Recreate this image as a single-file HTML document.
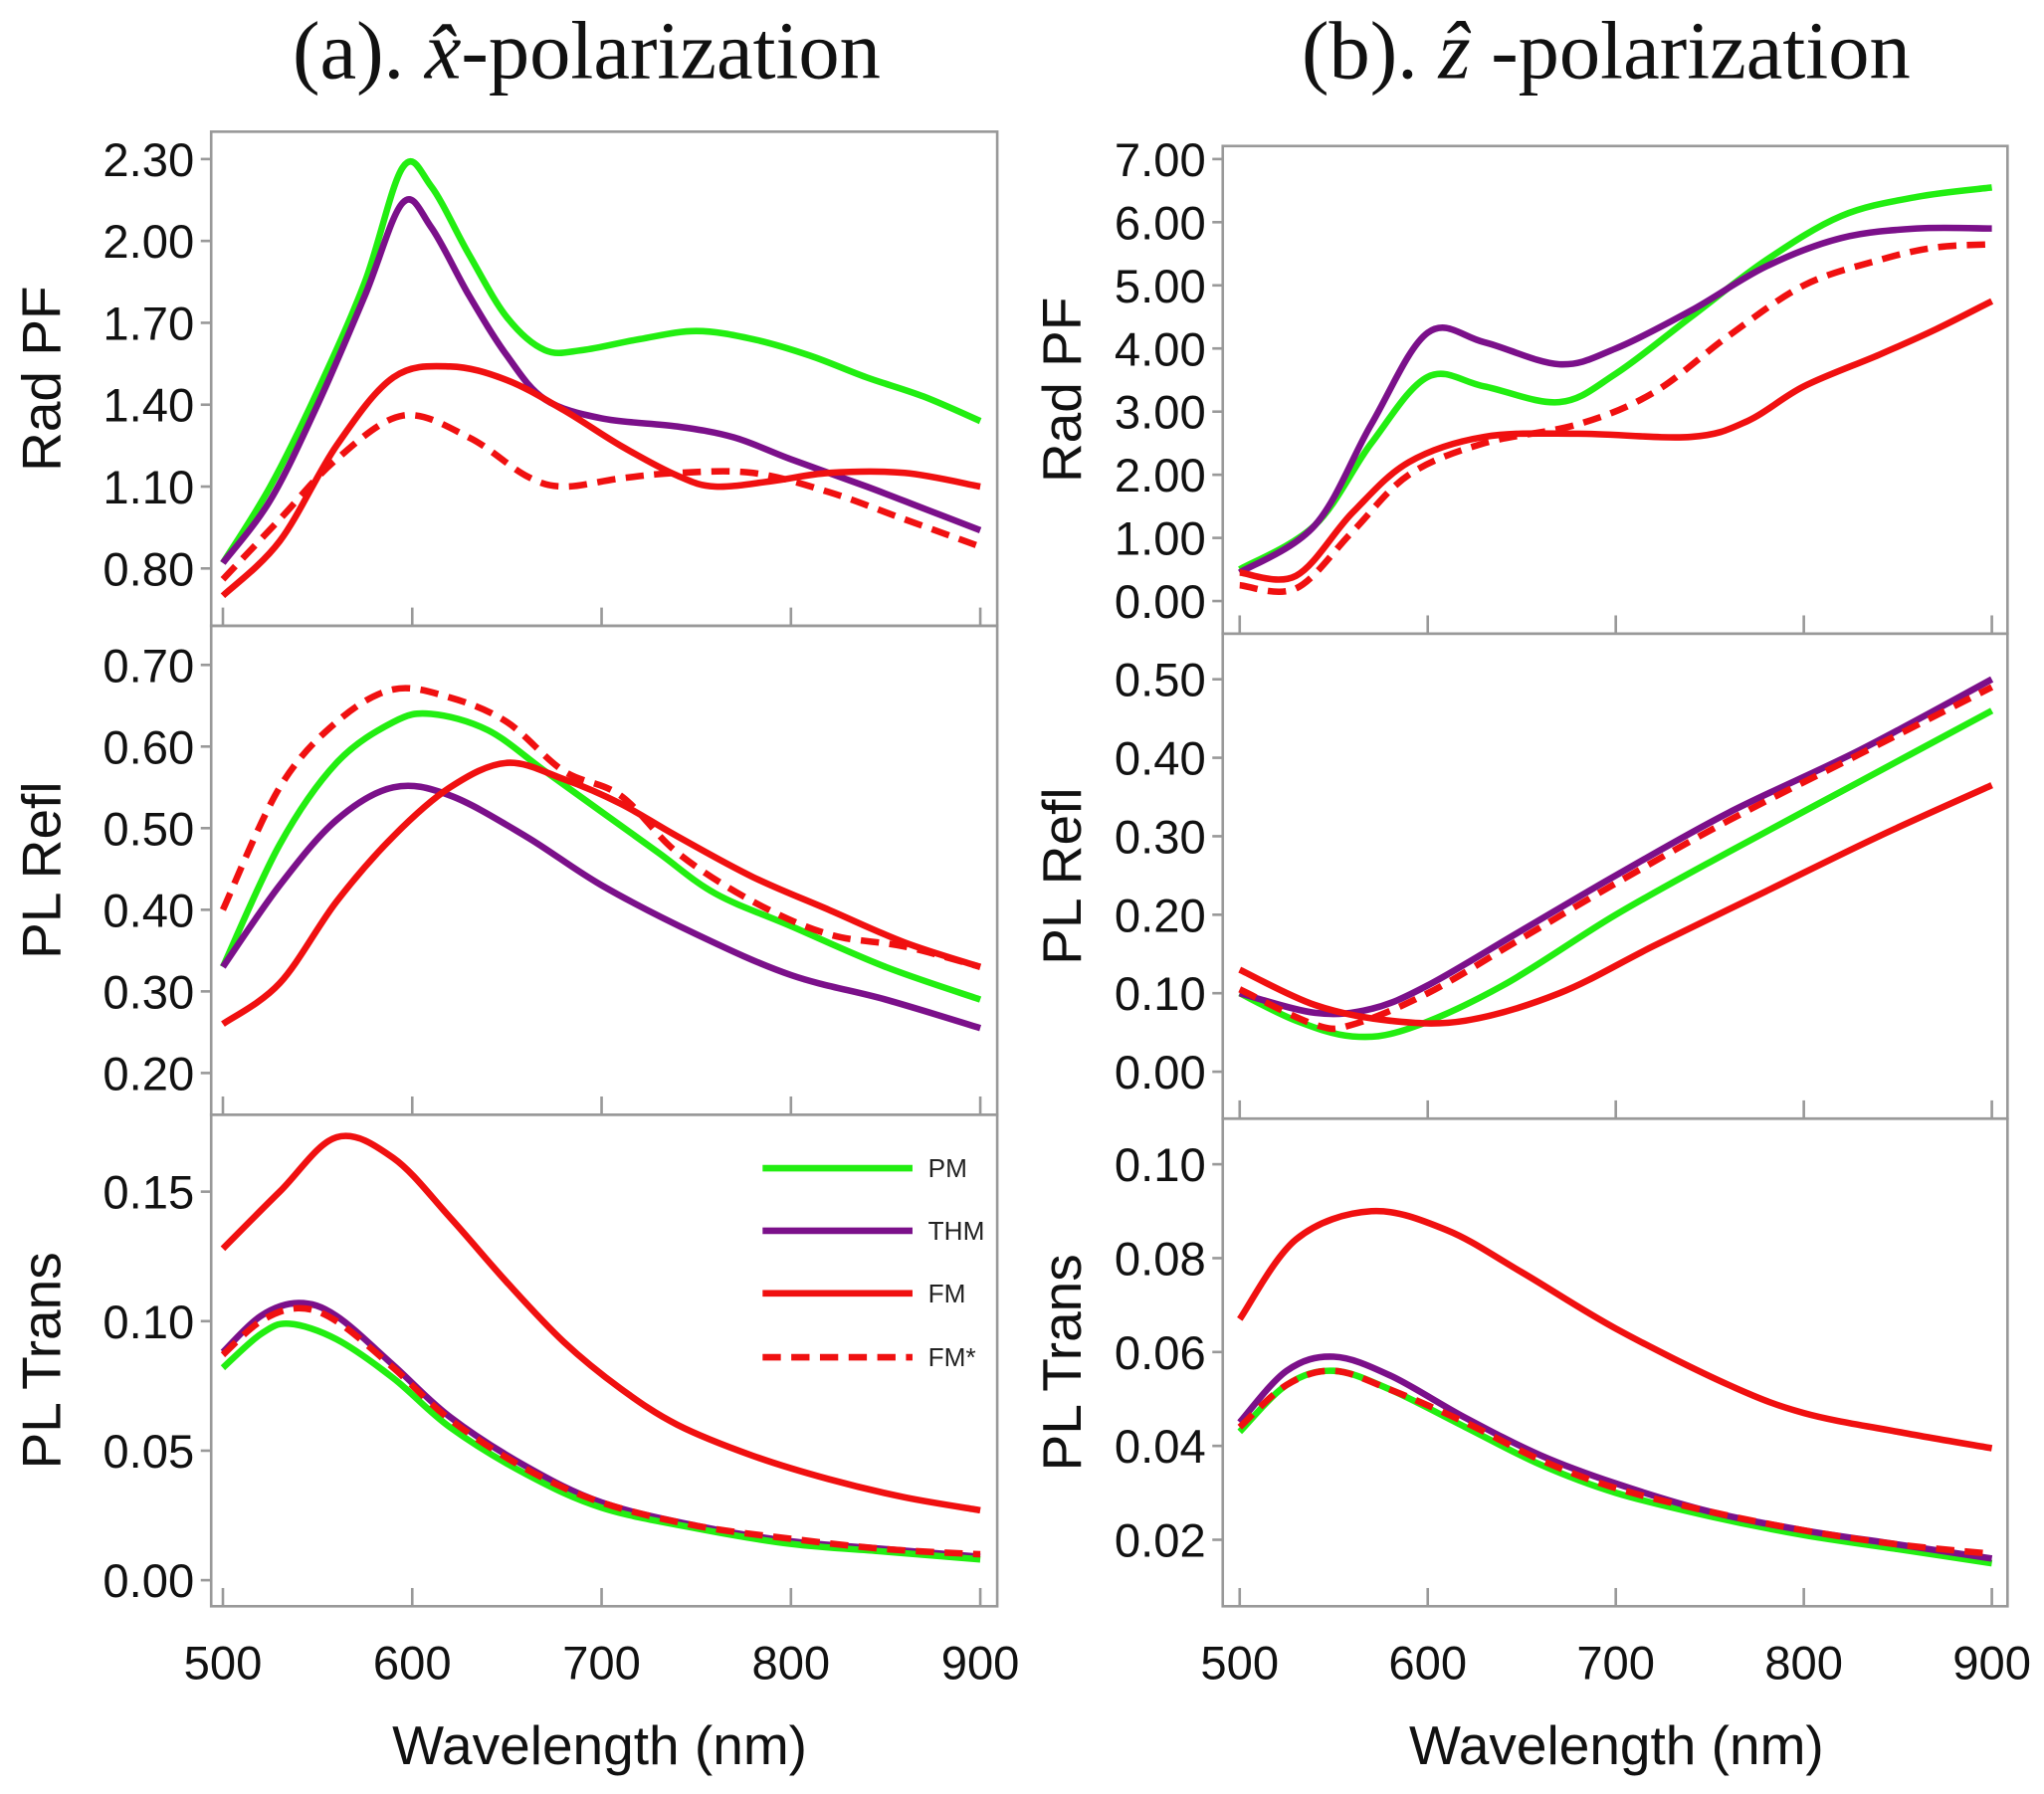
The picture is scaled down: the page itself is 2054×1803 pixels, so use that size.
<!DOCTYPE html>
<html><head><meta charset="utf-8"><style>
html,body{margin:0;padding:0;background:#fff}
svg{display:block}
.t{font-family:"Liberation Sans",sans-serif;font-size:36px;fill:#111}
.yl{font-family:"Liberation Sans",sans-serif;font-size:42px;fill:#111}
.ti{font-family:"Liberation Serif",serif;font-size:63px;fill:#111}
.lg{font-family:"Liberation Sans",sans-serif;font-size:20px;fill:#222}
</style></head><body>
<svg id="s" width="2054" height="1803" viewBox="0 0 1568 1376" preserveAspectRatio="none" xmlns="http://www.w3.org/2000/svg">
<text class="ti" x="450" y="60" text-anchor="middle">(a). <tspan font-style="italic">x̂</tspan>-polarization</text>
<text class="ti" x="1232" y="60" text-anchor="middle">(b). <tspan font-style="italic">ẑ</tspan> -polarization</text>
<g id="g"></g>
<text class="yl" x="460" y="1353" text-anchor="middle">Wavelength (nm)</text>
<text class="yl" x="1240" y="1353" text-anchor="middle">Wavelength (nm)</text>
<g class="lg">
<line x1="585" y1="896" x2="700" y2="896" stroke="#22ee11" stroke-width="5"/><text x="712" y="903">PM</text>
<line x1="585" y1="944" x2="700" y2="944" stroke="#7b108a" stroke-width="5"/><text x="712" y="951">THM</text>
<line x1="585" y1="992" x2="700" y2="992" stroke="#f01010" stroke-width="5"/><text x="712" y="999">FM</text>
<line x1="585" y1="1041" x2="700" y2="1041" stroke="#f01010" stroke-width="5" stroke-dasharray="14,8"/><text x="712" y="1048">FM*</text>
</g>
</svg>
<script>
const G='#22ee11',P='#7b108a',R='#f01010';
const panels=[
{x0:162,x1:765,y0:101,y1:480,xa:171,xb:752,ya:[2.30,122],yb:[0.80,436],ticks:[0.80,1.10,1.40,1.70,2.00,2.30],fmt:2,lab:'Rad PF',lx:32,
 s:[[G,0,[[500,.82],[525,1.1],[550,1.45],[575,1.85],[595,2.27],[610,2.2],[630,1.95],[650,1.72],[670,1.6],[690,1.6],[720,1.64],[750,1.67],[780,1.64],[810,1.58],[840,1.5],[870,1.43],[900,1.34]]],
 [P,0,[[500,.82],[525,1.05],[550,1.4],[575,1.8],[595,2.14],[610,2.05],[630,1.8],[650,1.58],[670,1.42],[700,1.35],[740,1.32],[770,1.28],[800,1.2],[840,1.1],[870,1.02],[900,.94]]],
 [R,0,[[500,.7],[530,.9],[560,1.25],[590,1.5],[620,1.54],[650,1.49],[680,1.38],[710,1.25],[740,1.14],[760,1.1],[790,1.12],[820,1.15],[860,1.15],[900,1.1]]],
 [R,1,[[500,.76],[530,.98],[560,1.2],[595,1.36],[630,1.28],[660,1.14],[680,1.1],[710,1.13],[740,1.15],[780,1.15],[820,1.08],[860,.98],[900,.88]]]]},
{x0:162,x1:765,y0:480,y1:855,xa:171,xb:752,ya:[0.70,510],yb:[0.20,823],ticks:[.2,.3,.4,.5,.6,.7],fmt:2,lab:'PL Refl',lx:32,
 s:[[G,0,[[500,.33],[530,.48],[560,.58],[590,.63],[610,.64],[640,.62],[670,.57],[700,.52],[730,.47],[760,.42],[800,.38],[850,.33],[900,.29]]],
 [P,0,[[500,.33],[530,.43],[560,.51],[590,.55],[620,.54],[660,.49],[700,.43],[750,.37],[800,.32],[850,.29],[900,.255]]],
 [R,0,[[500,.26],[530,.31],[560,.41],[590,.49],[620,.55],[650,.58],[680,.56],[710,.53],[740,.49],[780,.44],[820,.40],[860,.36],[900,.33]]],
 [R,1,[[500,.40],[530,.55],[560,.63],[590,.67],[620,.66],[650,.63],[680,.57],[710,.54],[740,.47],[780,.41],[820,.37],[860,.355],[900,.33]]]]},
{x0:162,x1:765,y0:855,y1:1232,xa:171,xb:752,ya:[0.15,914],yb:[0.00,1212],ticks:[0,.05,.1,.15],fmt:2,lab:'PL Trans',lx:32,xl:true,
 s:[[R,0,[[500,.128],[530,.15],[560,.171],[590,.163],[620,.14],[650,.115],[680,.092],[710,.074],[740,.060],[780,.048],[820,.039],[860,.032],[900,.027]]],
 [P,0,[[500,.088],[520,.102],[540,.107],[560,.102],[590,.083],[620,.063],[660,.044],[700,.030],[750,.021],[800,.015],[850,.012],[900,.009]]],
 [G,0,[[500,.082],[520,.095],[535,.099],[560,.093],[590,.078],[620,.059],[660,.041],[700,.028],[750,.02],[800,.014],[850,.011],[900,.008]]],
 [R,1,[[500,.087],[520,.1],[540,.105],[560,.1],[590,.082],[620,.062],[660,.043],[700,.030],[750,.021],[800,.016],[850,.012],[900,.010]]]]},
{x0:938,x1:1540,y0:112,y1:486,xa:951,xb:1528,ya:[7,122],yb:[0,461],ticks:[0,1,2,3,4,5,6,7],fmt:2,lab:'Rad PF',lx:815,
 s:[[G,0,[[500,.5],[540,1.2],[570,2.5],[600,3.55],[630,3.4],[670,3.15],[700,3.6],[740,4.5],[780,5.4],[820,6.1],[860,6.4],[900,6.55]]],
 [P,0,[[500,.45],[540,1.2],[570,2.8],[600,4.25],[630,4.1],[670,3.75],[700,4.0],[740,4.6],[780,5.3],[820,5.75],[860,5.9],[900,5.9]]],
 [R,0,[[500,.45],[530,.4],[560,1.4],[590,2.2],[630,2.6],[680,2.65],[740,2.6],[770,2.85],[800,3.4],[840,3.9],[870,4.3],[900,4.75]]],
 [R,1,[[500,.25],[530,.2],[560,1.1],[590,2.0],[630,2.5],[680,2.8],[720,3.3],[760,4.2],[800,5.0],[840,5.4],[870,5.6],[900,5.65]]]]},
{x0:938,x1:1540,y0:486,y1:858,xa:951,xb:1528,ya:[.5,521],yb:[0,822],ticks:[0,.1,.2,.3,.4,.5],fmt:2,lab:'PL Refl',lx:815,
 s:[[G,0,[[500,.10],[530,.065],[560,.045],[590,.055],[640,.11],[700,.20],[760,.28],[830,.37],[900,.46]]],
 [P,0,[[500,.10],[540,.075],[570,.08],[600,.11],[650,.18],[700,.25],[760,.33],[830,.41],[900,.50]]],
 [R,1,[[500,.105],[540,.06],[560,.06],[600,.10],[650,.17],[700,.24],[760,.32],[830,.405],[900,.49]]],
 [R,0,[[500,.13],[540,.085],[580,.065],[620,.065],[670,.1],[720,.16],[780,.23],[840,.30],[900,.365]]]]},
{x0:938,x1:1540,y0:858,y1:1232,xa:951,xb:1528,ya:[.1,893],yb:[.02,1181],ticks:[.02,.04,.06,.08,.1],fmt:2,lab:'PL Trans',lx:815,xl:true,
 s:[[R,0,[[500,.067],[530,.084],[570,.090],[610,.086],[650,.077],[700,.065],[760,.053],[800,.047],[850,.043],[900,.0395]]],
 [G,0,[[500,.043],[525,.053],[550,.056],[580,.052],[620,.044],[660,.036],[700,.030],[750,.025],[800,.021],[850,.018],[900,.015]]],
 [P,0,[[500,.045],[525,.056],[550,.059],[580,.055],[620,.046],[660,.038],[700,.032],[750,.026],[800,.022],[850,.019],[900,.016]]],
 [R,1,[[500,.044],[525,.053],[550,.056],[580,.052],[620,.045],[660,.037],[700,.031],[750,.026],[800,.022],[850,.019],[900,.017]]]]}
];
let h='';
for(const p of panels){
 const X=v=>p.xa+(v-500)/400*(p.xb-p.xa);
 const Y=v=>p.ya[1]+(v-p.ya[0])/(p.yb[0]-p.ya[0])*(p.yb[1]-p.ya[1]);
 h+=`<rect x="${p.x0}" y="${p.y0}" width="${p.x1-p.x0}" height="${p.y1-p.y0}" fill="none" stroke="#999" stroke-width="2"/>`;
 for(let w=500;w<=900;w+=100){h+=`<line x1="${X(w)}" y1="${p.y1}" x2="${X(w)}" y2="${p.y1-14}" stroke="#999" stroke-width="2"/>`;
  if(p.xl)h+=`<text class="t" x="${X(w)}" y="${p.y1+56}" text-anchor="middle">${w}</text>`;}
 for(const t of p.ticks){const y=Y(t);h+=`<line x1="${p.x0-8}" y1="${y}" x2="${p.x0}" y2="${y}" stroke="#999" stroke-width="2"/>`;
  h+=`<text class="t" x="${p.x0-13}" y="${y+13}" text-anchor="end">${t.toFixed(p.fmt)}</text>`;}
 const cy=(p.y0+p.y1)/2;
 h+=`<text class="yl" transform="translate(${p.lx+14},${cy}) rotate(-90)" text-anchor="middle">${p.lab}</text>`;
 for(const [c,d,pts] of p.s){
  const q=pts.map(a=>[X(a[0]),Y(a[1])]);
  let s=`M${q[0][0]},${q[0][1]}`;
  for(let i=0;i<q.length-1;i++){const a=q[Math.max(i-1,0)],b=q[i],e=q[i+1],f=q[Math.min(i+2,q.length-1)];
   s+=` C${b[0]+(e[0]-a[0])/6},${b[1]+(e[1]-a[1])/6} ${e[0]-(f[0]-b[0])/6},${e[1]-(f[1]-b[1])/6} ${e[0]},${e[1]}`;}
  h+=`<path d="${s}" fill="none" stroke="${c}" stroke-width="5" stroke-linejoin="round" ${d?'stroke-dasharray="14,8"':''}/>`;
 }
}
document.getElementById('g').innerHTML=h;
</script>
</body></html>
